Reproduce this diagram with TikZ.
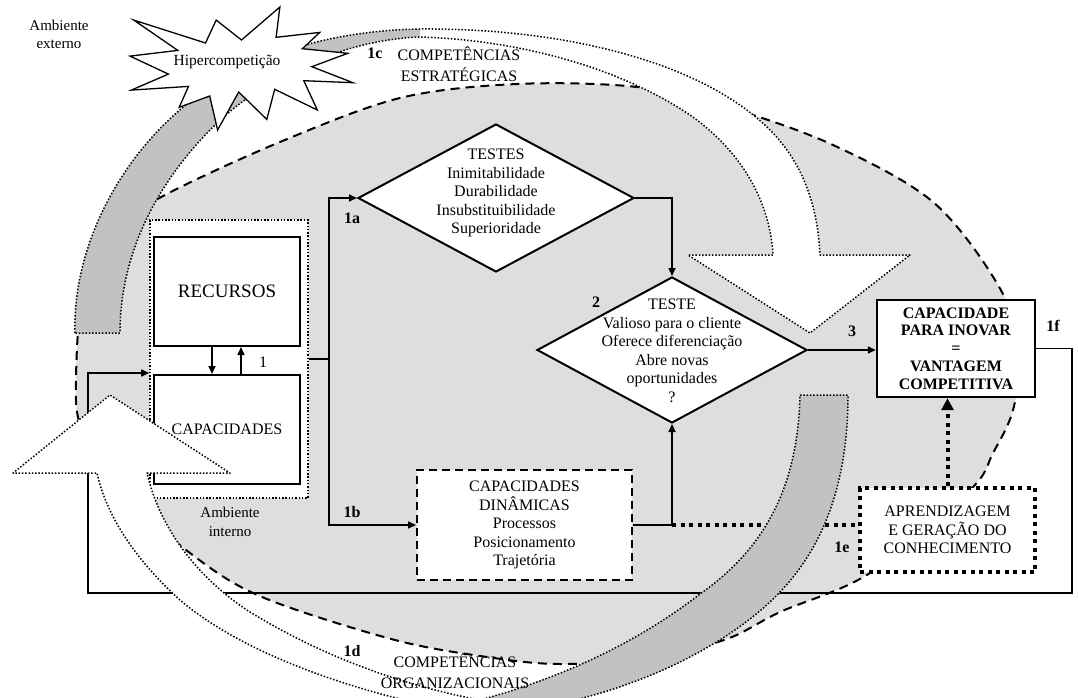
\documentclass[tikz,border=0pt]{standalone}
\usepackage{fontspec}
\setmainfont{Liberation Serif}
\usetikzlibrary{arrows.meta,shapes.geometric}
\definecolor{zonefill}{RGB}{222,222,222}
\definecolor{ribbonback}{RGB}{194,194,194}
\begin{document}
\begin{tikzpicture}[x=1pt,y=-1pt,
  txt/.style={font=\fontsize{16}{18.5}\selectfont, align=center, inner sep=0pt},
  lbl/.style={font=\fontsize{16}{18}\selectfont\bfseries, inner sep=0pt},
  conn/.style={line width=1.6pt},
  arr/.style={conn, -{Triangle[length=8pt,width=7pt]}},
  solidbox/.style={draw, line width=2pt, fill=white, inner sep=0pt},
  finedot/.style={line width=1.5pt, dash pattern=on 1.5pt off 1.8pt},
  bigdot/.style={line width=4pt, dash pattern=on 4pt off 4.5pt},
  zone/.style={fill=zonefill, line width=2pt, dash pattern=on 9pt off 6pt},
  testbox/.style={shape=diamond, draw, line width=2pt, fill=white, inner sep=0pt},
  ribbon/.style={finedot, line join=round},
]
\useasboundingbox (0,0) rectangle (1078,698);
\clip (0,0) rectangle (1078,698);
\fill[white] (0,0) rectangle (1078,698);

% internal environment zone
\draw[zone] plot[smooth cycle, tension=0.55] coordinates {
  (76,380) (84,290) (118,228) (165,195) (280,142) (400,98) (517,84)
  (637,87) (730,108) (833,145) (933,202) (998,285) (1020,350)
  (1013,410) (993,453) (970,490) (870,573) (780,612) (724,640)
  (640,659) (560,664) (494,658) (395,640) (262,597) (190,553)
  (120,490) (82,430)};

% resources and capabilities
\node[draw, fill=white, finedot, line width=1.6pt, minimum width=158pt, minimum height=278pt] (cont) at (229,359) {};
\node[solidbox, txt, font=\fontsize{19}{21}\selectfont, minimum width=146pt, minimum height=109pt] (rec) at (227,291.5) {RECURSOS};
\node[solidbox, minimum width=146pt, minimum height=109pt] (cap) at (227,429.5) {};

% tests
\node[testbox, minimum width=276pt, minimum height=148pt] (d1) at (496,198) {};
\node[txt] (d1t) at (496,193) {TESTES\\Inimitabilidade\\Durabilidade\\Insubstituibilidade\\Superioridade};
\node[testbox, minimum width=270pt, minimum height=146pt] (d2) at (672,350) {};
\node[txt] (d2t) at (672,351) {TESTE\\Valioso para o cliente\\Oferece diferenciação\\Abre novas\\oportunidades\\?};

% dynamic capabilities, result and learning
\node[draw, fill=white, line width=2pt, dash pattern=on 8pt off 5pt, txt, minimum width=215pt, minimum height=110pt] (dc) at (524.5,525) {CAPACIDADES\\DINÂMICAS\\Processos\\Posicionamento\\Trajetória};
\node[draw, fill=white, line width=2.4pt, txt, font=\fontsize{16}{17.8}\selectfont\bfseries, minimum width=158pt, minimum height=97pt] (cib) at (956,348.5) {CAPACIDADE\\PARA INOVAR\\=\\VANTAGEM\\COMPETITIVA};
\node[draw, fill=white, bigdot, txt, minimum width=175pt, minimum height=84pt] (apr) at (947.5,530) {APRENDIZAGEM\\E GERAÇÃO DO\\CONHECIMENTO};

% connectors
\coordinate (j1) at (329,359);
\draw[conn] (cont.east) -- (j1);
\draw[arr] (j1) |- (d1.west);
\draw[arr] (j1) |- (dc.west);
\draw[arr] ([xshift=-15pt]rec.south) -- ([xshift=-15pt]cap.north);
\draw[arr] ([xshift=14pt]cap.north) -- ([xshift=14pt]rec.south);
\draw[arr] (d1.east) -| (d2.north);
\coordinate (j2) at (d2.south |- dc.east);
\draw[conn] (dc.east) -- (j2);
\draw[arr] (j2) -- (d2.south);
\draw[arr] (d2.east) -- (d2.east -| cib.west);
\draw[bigdot] (j2) -- (j2 -| apr.west);
\draw[bigdot, -{Triangle[length=12pt,width=12pt]}] (apr.north) -- (apr.north |- cib.south);
\coordinate (fb2) at (1072,593);
\coordinate (fb3) at (88,593);
\coordinate (fb4) at (88,373);
\draw[arr] (cib.east) -| (fb2) -- (fb3) -- (fb4) -- (fb4 -| cont.west);

% strategic competences: ribbon over the top
\fill[white] (75,333) .. controls (72,240) and (130,130) .. (230,75) .. controls (290,42) and (360,30) .. (420,29)
  .. controls (560,28) and (700,60) .. (770,130) .. controls (805,165) and (818,210) .. (820,255)
  -- (910,255) -- (810,333) -- (688,255) -- (773,255)
  .. controls (770,200) and (740,150) .. (690,115) .. controls (620,68) and (520,40) .. (420,37)
  .. controls (340,40) and (260,80) .. (213,127) .. controls (160,180) and (120,250) .. (120,333) -- cycle;
\fill[ribbonback] (75,333) .. controls (72,240) and (130,130) .. (230,75) .. controls (290,42) and (360,30) .. (420,29)
  -- (420,37) .. controls (340,40) and (260,80) .. (213,127) .. controls (160,180) and (120,250) .. (120,333) -- cycle;
\draw[ribbon] (75,333) .. controls (72,240) and (130,130) .. (230,75) .. controls (290,42) and (360,30) .. (420,29)
  .. controls (560,28) and (700,60) .. (770,130) .. controls (805,165) and (818,210) .. (820,255)
  -- (910,255) -- (810,333) -- (688,255) -- (773,255)
  .. controls (770,200) and (740,150) .. (690,115) .. controls (620,68) and (520,40) .. (420,37)
  .. controls (340,40) and (260,80) .. (213,127) .. controls (160,180) and (120,250) .. (120,333) -- cycle;

% organisational competences: ribbon underneath
\fill[white] (800,395) -- (848,395) .. controls (848,480) and (825,545) .. (780,592) .. controls (730,645) and (620,705) .. (480,715)
  .. controls (380,700) and (250,660) .. (180,600) .. controls (130,555) and (105,510) .. (97,473)
  -- (13,473) -- (110,395) -- (230,473) -- (147,473)
  .. controls (160,530) and (200,580) .. (250,612) .. controls (320,655) and (400,685) .. (480,700)
  .. controls (590,670) and (660,625) .. (700,594) .. controls (770,545) and (798,480) .. (800,395) -- cycle;
\fill[ribbonback] (800,395) -- (848,395) .. controls (848,480) and (825,545) .. (780,592) .. controls (730,645) and (620,705) .. (480,715)
  -- (480,700) .. controls (590,670) and (660,625) .. (700,594) .. controls (770,545) and (798,480) .. (800,395) -- cycle;
\draw[ribbon] (800,395) -- (848,395) .. controls (848,480) and (825,545) .. (780,592) .. controls (730,645) and (620,705) .. (480,715)
  .. controls (380,700) and (250,660) .. (180,600) .. controls (130,555) and (105,510) .. (97,473)
  -- (13,473) -- (110,395) -- (230,473) -- (147,473)
  .. controls (160,530) and (200,580) .. (250,612) .. controls (320,655) and (400,685) .. (480,700)
  .. controls (590,670) and (660,625) .. (700,594) .. controls (770,545) and (798,480) .. (800,395) -- cycle;

\node[txt] (capt) at (cap) {CAPACIDADES};

% hypercompetition burst
\draw[fill=white, line width=1.3pt, line join=miter] (241.5,40) -- (279.9,7) -- (276.1,37.3) -- (319.8,32.4)
  -- (302.4,48.7) -- (347.8,53.3) -- (311.8,66.7) -- (353,82.7) -- (303.8,80.7) -- (317.3,110)
  -- (274.7,89.3) -- (266.8,119.4) -- (238.7,92) -- (217.6,130) -- (209.7,96) -- (179.2,107.3)
  -- (188.5,86.4) -- (131.4,90.1) -- (168.4,74.1) -- (130,56.1) -- (177.8,50.4) -- (133.8,20.1)
  -- (205.5,43) -- (216.2,20.1) -- cycle;
\node[txt, font=\fontsize{15.5}{18}\selectfont] (hyper) at (227,62) {Hipercompetição};

% labels
\node[txt, font=\fontsize{15}{18}\selectfont] (ext) at (59,34) {Ambiente\\externo};
\node[txt, font=\fontsize{15}{19}\selectfont] (int) at (230,522) {Ambiente\\interno};
\node[lbl] (l1c) at (375,53) {1c};
\node[txt, font=\fontsize{16}{21}\selectfont] (compE) at (459,64) {COMPETÊNCIAS\\ESTRATÉGICAS};
\node[lbl] (l1d) at (352,651) {1d};
\node[txt, font=\fontsize{16}{21}\selectfont] (compO) at (455,671) {COMPETÊNCIAS\\ORGANIZACIONAIS};
\node[lbl] (l1a) at (352,218) {1a};
\node[lbl] (l1b) at (352,512) {1b};
\node[txt] (l1) at (263,362) {1};
\node[lbl] (l2) at (596,302) {2};
\node[lbl] (l3) at (852,331) {3};
\node[lbl] (l1f) at (1053,326) {1f};
\node[lbl] (l1e) at (842,547) {1e};
\end{tikzpicture}
\end{document}
